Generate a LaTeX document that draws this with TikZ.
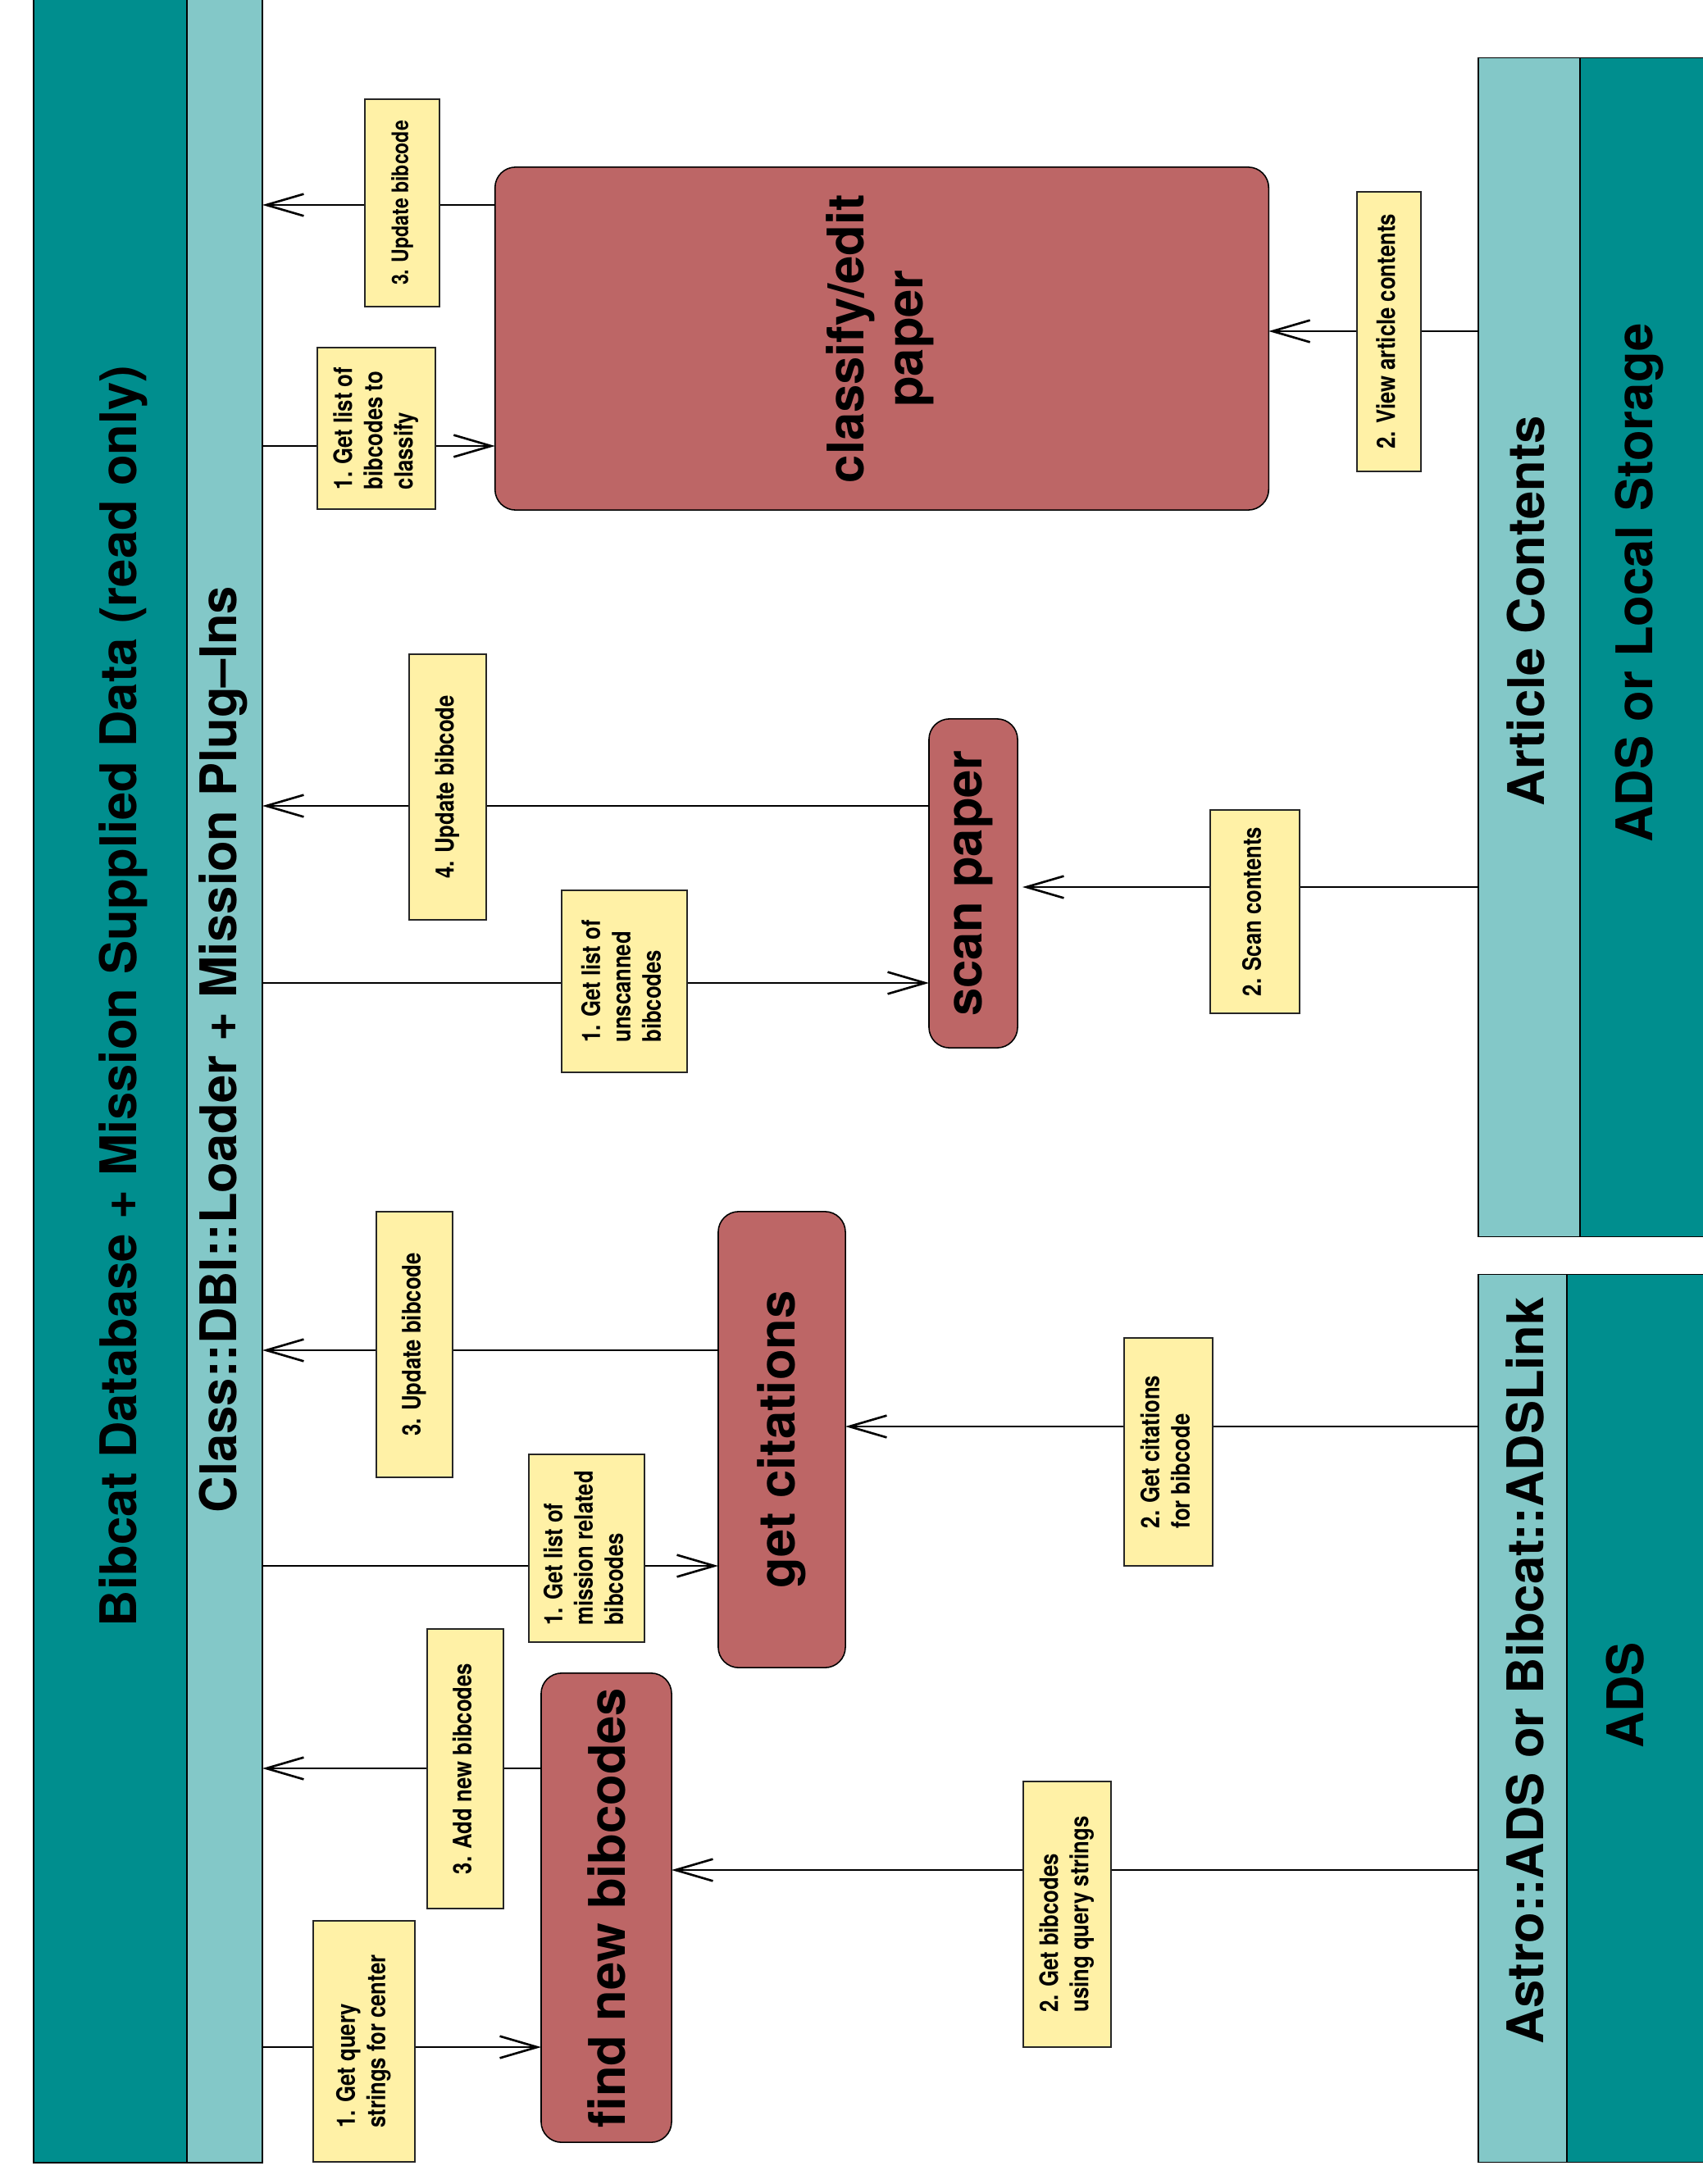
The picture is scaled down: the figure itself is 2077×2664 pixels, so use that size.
\documentclass[tikz,border=0pt]{standalone}
\usepackage{fontspec}
\usepackage{graphicx}
\setmainfont{TeX Gyre Heros}
\newfontfamily\narrowfont[FakeStretch=0.83]{TeX Gyre Heros}
\usetikzlibrary{arrows.meta}
\definecolor{darkteal}{RGB}{0,142,142}
\definecolor{lightteal}{RGB}{131,200,200}
\definecolor{procred}{RGB}{189,102,102}
\definecolor{labelyel}{RGB}{255,241,166}
\newcommand{\bigtxt}{\fontsize{17.5pt}{20.5pt}\selectfont\bfseries}
\newcommand{\smalltxt}{\narrowfont\bfseries\fontsize{8.8pt}{10.5pt}\selectfont}
\newcommand{\tinytxt}{\narrowfont\bfseries\fontsize{7.9pt}{10.5pt}\selectfont}
\newcommand{\rotl}[1]{\rotatebox{90}{\begin{tabular}{@{}l@{}}#1\end{tabular}}}
\newcommand{\rotc}[1]{\rotatebox{90}{\begin{tabular}{@{}c@{}}#1\end{tabular}}}
\tikzset{
  barbox/.style={draw=black, line width=0.45pt, inner sep=0pt, outer sep=0pt},
  darkbar/.style={barbox, fill=darkteal},
  lightbar/.style={barbox, fill=lightteal},
  procbox/.style={draw=black, line width=0.45pt, fill=procred, rounded corners=0.25cm, inner sep=0pt, outer sep=0pt, font=\bigtxt},
  labelbox/.style={draw=black!85, line width=0.45pt, fill=labelyel, inner sep=0pt, font=\smalltxt},
  bartext/.style={rotate=90, inner sep=0pt, font=\bigtxt},
  conn/.style={draw=black, line width=0.75pt},
  arr/.style={conn, -{Straight Barb[length=13pt,width=7.6pt,line width=0.75pt]}}
}
\begin{document}
\begin{tikzpicture}[x=0.01cm,y=-0.01cm]
\useasboundingbox (0,0) rectangle (2077,2664);
\fill[white] (0,0) rectangle (2077,2664);

% bars
\node[darkbar, minimum width=1.87cm, minimum height=26.42cm] (dbbar) at (134.5,1316) {};
\node[lightbar, minimum width=0.92cm, minimum height=26.42cm] (plugbar) at (274,1316) {};
\node[lightbar, minimum width=1.24cm, minimum height=14.37cm] (acbar) at (1865,789.5) {};
\node[darkbar, minimum width=1.63cm, minimum height=14.37cm] (storebar) at (2008.5,789.5) {};
\node[lightbar, minimum width=1.08cm, minimum height=10.82cm] (linkbar) at (1857,2096) {};
\node[darkbar, minimum width=1.79cm, minimum height=10.82cm] (adsbar) at (2000.5,2096) {};

\node[bartext] (dbtext) at (150,1215) {Bibcat Database + Mission Supplied Data (read only)};
\node[bartext] (plugtext) at (272,1280) {Class::DBI::Loader + Mission Plug–Ins};
\node[bartext] (actext) at (1861,745) {Article Contents};
\node[bartext] (storetext) at (1999,711) {ADS or Local Storage};
\node[bartext] (linktext) at (1860,2038) {Astro::ADS or Bibcat::ADSLink};
\node[bartext] (adstext) at (1982,2068) {ADS};

% process boxes
\node[procbox, minimum width=9.43cm, minimum height=4.18cm] (classify) at (1075.5,413) {\rotc{classify/edit\\paper}};
\node[procbox, minimum width=1.08cm, minimum height=4.01cm] (scan) at (1187,1077.5) {\rotatebox{90}{scan paper}};
\node[procbox, minimum width=1.55cm, minimum height=5.56cm] (getcit) at (953.5,1756) {\rotatebox{90}{get citations}};
\node[procbox, minimum width=1.59cm, minimum height=5.72cm] (find) at (739.5,2327) {\rotatebox{90}{find new bibcodes}};

% connector heights
\coordinate (r250) at (0,250);
\coordinate (r544) at (0,544);
\coordinate (r404) at (0,404);
\coordinate (r983) at (0,983);
\coordinate (r1199) at (0,1199);
\coordinate (r1082) at (0,1082);
\coordinate (r1647) at (0,1647);
\coordinate (r1910) at (0,1910);
\coordinate (r1740) at (0,1740);
\coordinate (r2157) at (0,2157);
\coordinate (r2497) at (0,2497);
\coordinate (r2281) at (0,2281);

% connectors
\draw[arr] (classify.west |- r250) -- (plugbar.east |- r250);
\draw[arr] (plugbar.east |- r544) -- (classify.west |- r544);
\draw[arr] (acbar.west |- r404) -- (classify.east |- r404);
\draw[arr] (scan.west |- r983) -- (plugbar.east |- r983);
\draw[arr] (plugbar.east |- r1199) -- (scan.west |- r1199);
\draw[arr, shorten >=0.06cm] (acbar.west |- r1082) -- (scan.east |- r1082);
\draw[arr] (getcit.west |- r1647) -- (plugbar.east |- r1647);
\draw[arr] (plugbar.east |- r1910) -- (getcit.west |- r1910);
\draw[arr] (linkbar.west |- r1740) -- (getcit.east |- r1740);
\draw[arr] (find.west |- r2157) -- (plugbar.east |- r2157);
\draw[arr] (plugbar.east |- r2497) -- (find.west |- r2497);
\draw[arr] (linkbar.west |- r2281) -- (find.east |- r2281);

% labels
\node[labelbox, font=\tinytxt, minimum width=0.91cm, minimum height=2.53cm] (lab1) at (490.5,247.5) {\rotl{3. Update bibcode}};
\node[labelbox, minimum width=1.44cm, minimum height=1.97cm] (lab2) at (459,522.5) {\rotl{1. Get list of\\bibcodes to\\classify}};
\node[labelbox, minimum width=0.78cm, minimum height=3.41cm] (lab3) at (1694,404.5) {\rotl{2. View article contents}};
\node[labelbox, minimum width=0.94cm, minimum height=3.24cm] (lab4) at (546,960) {\rotl{4. Update bibcode}};
\node[labelbox, minimum width=1.53cm, minimum height=2.22cm] (lab5) at (761.5,1197) {\rotl{1. Get list of\\unscanned\\bibcodes}};
\node[labelbox, minimum width=1.09cm, minimum height=2.48cm] (lab6) at (1530.5,1112) {\rotl{2. Scan contents}};
\node[labelbox, minimum width=0.93cm, minimum height=3.24cm] (lab7) at (505.5,1640) {\rotl{3. Update bibcode}};
\node[labelbox, minimum width=1.41cm, minimum height=2.29cm] (lab8) at (715.5,1888.5) {\rotl{1. Get list of\\mission related\\bibcodes}};
\node[labelbox, minimum width=1.08cm, minimum height=2.78cm] (lab9) at (1425,1771) {\rotl{2. Get citations\\for bibcode}};
\node[labelbox, minimum width=0.93cm, minimum height=3.41cm] (lab10) at (567.5,2157.5) {\rotl{3. Add new bibcodes}};
\node[labelbox, minimum width=1.24cm, minimum height=2.94cm] (lab11) at (444,2490) {\rotl{1. Get query\\strings for center}};
\node[labelbox, minimum width=1.07cm, minimum height=3.24cm] (lab12) at (1301.5,2335) {\rotl{2. Get bibcodes\\using query strings}};
\end{tikzpicture}
\end{document}
